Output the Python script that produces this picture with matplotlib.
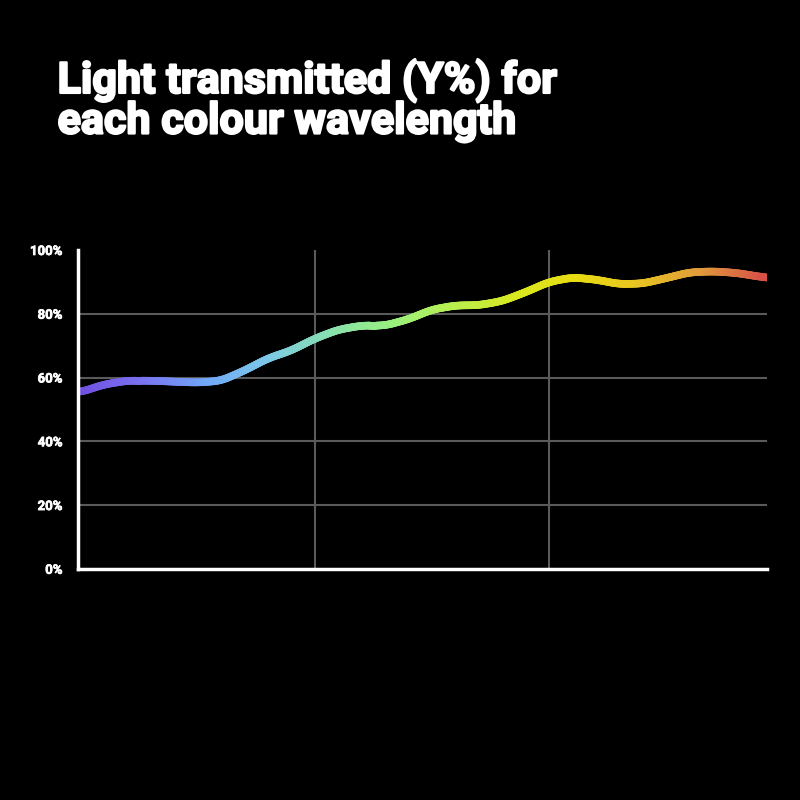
import numpy as np
import matplotlib
matplotlib.use("Agg")
import matplotlib.pyplot as plt
import matplotlib.patheffects as pe
from matplotlib.collections import LineCollection
from matplotlib.colors import LinearSegmentedColormap

title = "Light transmitted (Y%) for\neach colour wavelength"
wavelengths = [400, 410, 420, 430, 440, 450, 460, 470, 480, 490, 500, 510, 520, 530,
               540, 550, 560, 570, 580, 590, 600, 610, 620, 630, 640, 650, 660, 670,
               680, 690, 700]
transmission = [55.4, 57.8, 59.0, 59.0, 58.7, 58.4, 59.0, 62.2, 66.0, 68.5, 72.2, 75.0,
                76.3, 76.3, 78.3, 81.3, 82.6, 82.7, 84.0, 86.8, 90.0, 91.4, 90.7, 89.3,
                89.5, 91.2, 93.0, 93.3, 92.8, 91.6, 90.8]
y_ticks = [0, 20, 40, 60, 80, 100]
y_tick_labels = ["0%", "20%", "40%", "60%", "80%", "100%"]
x_grid = [500, 600]

line_colors = ["#7050e0", "#7a72f0", "#70a6f8", "#7cc8e8", "#88e0b0", "#98f080",
               "#b8ef50", "#d8e820", "#e8dc12", "#e8c422", "#e09a3c", "#d85048"]

plt.rcParams['font.family'] = ['Roboto', 'DejaVu Sans']

fig = plt.figure(figsize=(8, 8), dpi=100, facecolor="black")
ax = fig.add_axes([0.0975, 0.289, 0.8615, 0.3985], facecolor="black")

x_lo, x_hi = 399, 693
ax.set_xlim(x_lo, x_hi)
ax.set_ylim(0, 100)

for yv in y_ticks[1:-1]:
    ax.axhline(yv, color="#5a5a5a", lw=1.5, zorder=1)
for xv in x_grid:
    ax.axvline(xv, color="#5a5a5a", lw=1.5, zorder=1)

wl = np.array(wavelengths, float)
tr = np.array(transmission, float)
xf = np.linspace(wl[0], wl[-1], 600)
yf = np.interp(xf, wl, tr)
k = 15
pad = np.pad(yf, (k // 2, k // 2), mode="edge")
yf = np.convolve(pad, np.ones(k) / k, mode="valid")
pts = np.array([xf, yf]).T.reshape(-1, 1, 2)
segs = np.concatenate([pts[:-1], pts[1:]], axis=1)
cmap = LinearSegmentedColormap.from_list("spec", line_colors)
lc = LineCollection(segs, cmap=cmap, linewidth=5.5, capstyle="round",
                    joinstyle="round", antialiased=True, zorder=3)
lc.set_array((xf[:-1] - 400) / (x_hi - 400))
lc.set_clim(0, 1)
ax.add_collection(lc)

for s in ["top", "right"]:
    ax.spines[s].set_visible(False)
for s in ["left", "bottom"]:
    ax.spines[s].set_color("white")
    ax.spines[s].set_linewidth(2.5)
    ax.spines[s].set_zorder(4)

ax.set_xticks([])
ax.set_yticks(y_ticks)
ax.set_yticklabels(y_tick_labels, color="white", fontsize=9.5, fontweight="bold")
for lbl in ax.get_yticklabels():
    lbl.set_path_effects([pe.withStroke(linewidth=0.5, foreground="white")])
ax.tick_params(axis="y", length=0, pad=11)

fig.text(0.072, 0.926, title, color="white", fontsize=31, fontweight="bold",
         va="top", ha="left", linespacing=0.97,
         path_effects=[pe.withStroke(linewidth=1.6, foreground="white")])

fig.savefig("out.png", dpi=100, facecolor="black")
